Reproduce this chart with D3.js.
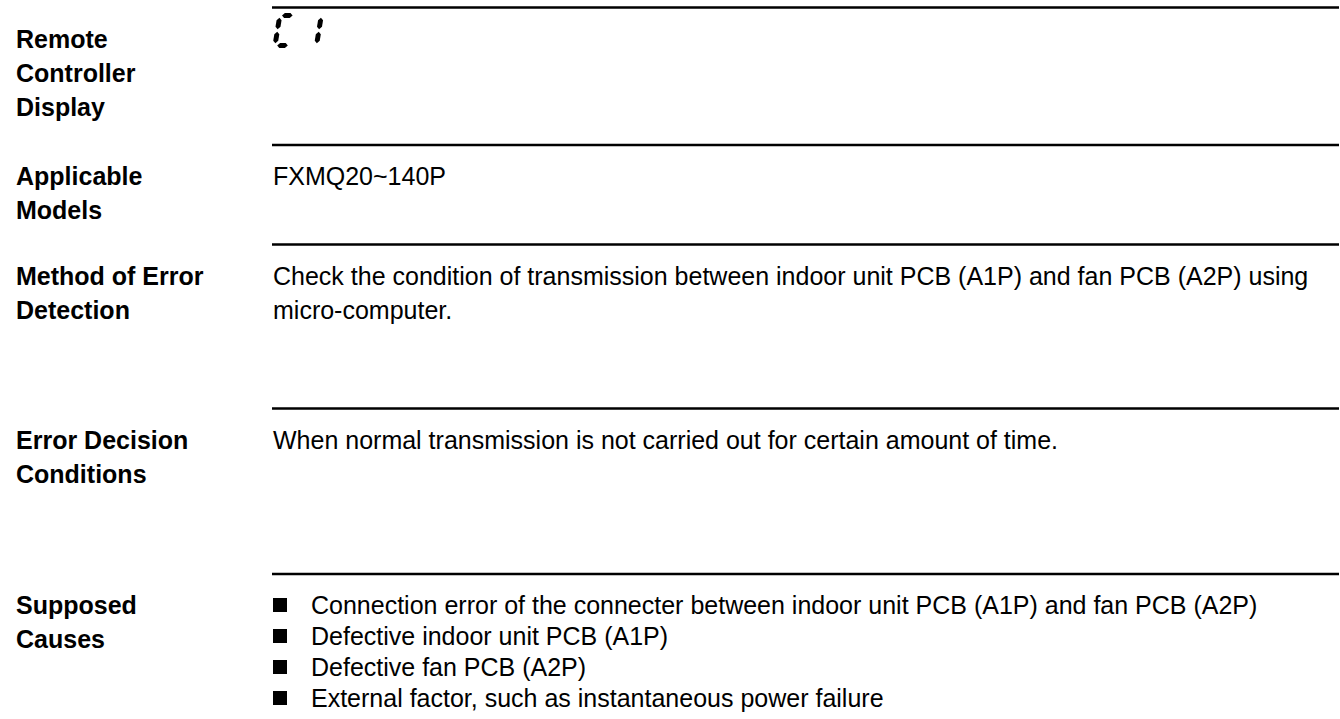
<!DOCTYPE html>
<html>
<head>
<meta charset="utf-8">
<script src="https://cdn.jsdelivr.net/npm/d3@7/dist/d3.min.js"></script>
<style>
  html, body { margin: 0; padding: 0; background: #ffffff; }
  svg { display: block; }
  text { font-family: "Liberation Sans", Arial, Helvetica, sans-serif; fill: #000; }
</style>
</head>
<body>
<svg id="chart" width="1340" height="719"></svg>
<script>
// ---- content ----
const rowLabels = [
  ["Remote", "Controller", "Display"],
  ["Applicable", "Models"],
  ["Method of Error", "Detection"],
  ["Error Decision", "Conditions"],
  ["Supposed", "Causes"]
];
const rowBodies = [
  [],
  ["FXMQ20~140P"],
  ["Check the condition of transmission between indoor unit PCB (A1P) and fan PCB (A2P) using", "micro-computer."],
  ["When normal transmission is not carried out for certain amount of time."],
  []
];
const causes = [
  "Connection error of the connecter between indoor unit PCB (A1P) and fan PCB (A2P)",
  "Defective indoor unit PCB (A1P)",
  "Defective fan PCB (A2P)",
  "External factor, such as instantaneous power failure"
];
const displayCode = ["C", "1"];
const segmentMap = { "C": ["a", "f", "e", "d"], "1": ["b", "c"] };

// ---- layout ----
const rowTops = [7.5, 145, 244.5, 408.5, 574];
const labelX = 16, bodyX = 273, ruleEnd = 1339;
const firstBaseline = 40, labelLH = 34, bodyLH = 34, bulletLH = 31;
const fontSize = 25;

const svg = d3.select("#chart");
const yRow = d3.scaleOrdinal().domain(d3.range(rowLabels.length)).range(rowTops);

// rules
svg.append("g").selectAll("line").data(d3.range(rowLabels.length)).join("line")
  .attr("x1", bodyX - 1).attr("x2", ruleEnd)
  .attr("y1", i => yRow(i)).attr("y2", i => yRow(i))
  .attr("stroke", "#000").attr("stroke-width", 2.3);

// labels and body text
const rows = svg.append("g").selectAll("g").data(rowLabels).join("g");
rows.each(function(lines, i) {
  const g = d3.select(this);
  g.selectAll("text.lab").data(lines).join("text").attr("class", "lab")
    .attr("x", labelX)
    .attr("y", (d, j) => yRow(i) + firstBaseline + j * labelLH)
    .attr("font-size", fontSize).attr("font-weight", "bold")
    .text(d => d);
  g.selectAll("text.body").data(rowBodies[i]).join("text").attr("class", "body")
    .attr("x", bodyX)
    .attr("y", (d, j) => yRow(i) + firstBaseline + j * bodyLH)
    .attr("font-size", fontSize)
    .text(d => d);
});

// bullets
const causeRow = 4;
const bItems = svg.append("g").selectAll("g").data(causes).join("g")
  .attr("transform", (d, j) => `translate(0,${yRow(causeRow) + firstBaseline + j * bulletLH})`);
bItems.append("rect").attr("x", bodyX).attr("y", -16).attr("width", 14).attr("height", 14).attr("fill", "#000");
bItems.append("text").attr("x", bodyX + 38).attr("y", 0).attr("font-size", fontSize).text(d => d);

// seven-segment "C1"
const digitW = 15, digitH = 30, slant = 0.16, th = 5;
function segPoly(seg) {
  const h2 = digitH / 2, t = th / 2, g = 1.2;
  const hs = (x1, x2, y) => [[x1, y], [x1 + t, y - t], [x2 - t, y - t], [x2, y], [x2 - t, y + t], [x1 + t, y + t]];
  const vs = (x, y1, y2) => [[x, y1], [x + t, y1 + t], [x + t, y2 - t], [x, y2], [x - t, y2 - t], [x - t, y1 + t]];
  switch (seg) {
    case "a": return hs(g + 1, digitW - g - 1, 0);
    case "b": return vs(digitW, g + 1, h2 - g);
    case "c": return vs(digitW, h2 + g, digitH - g - 1);
    case "d": return hs(g + 1, digitW - g - 1, digitH);
    case "e": return vs(0, h2 + g, digitH - g - 1);
    case "f": return vs(0, g + 1, h2 - g);
  }
}
const lineGen = d3.line().curve(d3.curveLinearClosed);
const dispG = svg.append("g").attr("transform", `translate(${bodyX + 2},${yRow(0) + 8})`);
const digits = dispG.selectAll("g").data(displayCode).join("g")
  .attr("transform", (d, i) => `translate(${i * 26.5},0)`);
digits.each(function(ch) {
  d3.select(this).selectAll("path").data(segmentMap[ch] || []).join("path")
    .attr("d", s => lineGen(segPoly(s).map(([x, y]) => [x + slant * (digitH - y), y])))
    .attr("fill", "#000");
});
</script>
</body>
</html>
